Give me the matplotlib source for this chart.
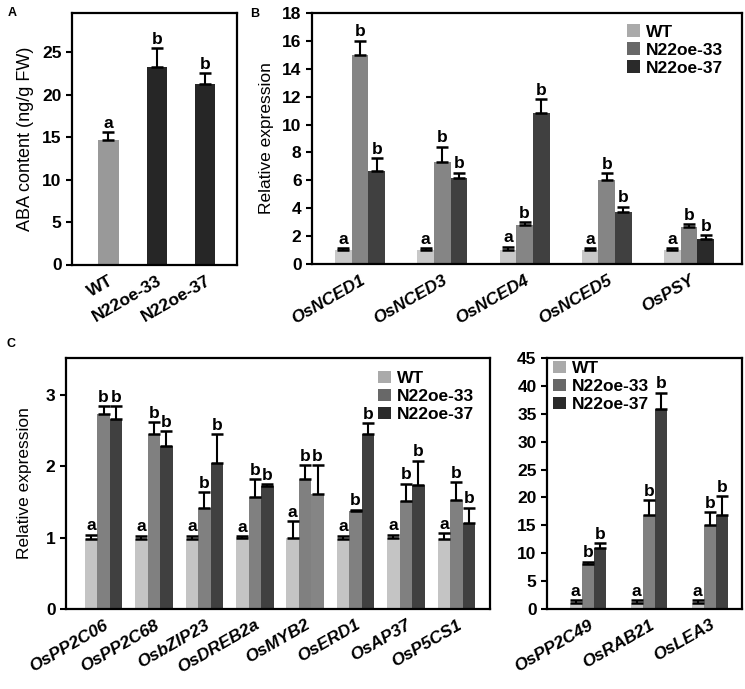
import matplotlib
matplotlib.use('Agg')
import matplotlib.pyplot as plt
import numpy as np
from matplotlib.patches import Patch

plt.rcParams['font.family'] = 'Liberation Sans'

# ---- data ----
lines = ['WT', 'N22oe-33', 'N22oe-37']
letters = ['a', 'b', 'b']

# A: ABA content
aba_mean = [14.7, 23.3, 21.3]
aba_err = [0.9, 2.15, 1.2]

# B: ABA biosynthesis genes
genes_b = ['OsNCED1', 'OsNCED3', 'OsNCED4', 'OsNCED5', 'OsPSY']
b_wt = [1.0, 1.0, 1.0, 1.0, 1.0]
b_wt_err = [0.15, 0.15, 0.25, 0.15, 0.15]
b_33 = [15.0, 7.35, 2.8, 6.05, 2.65]
b_33_err = [1.0, 1.05, 0.2, 0.45, 0.2]
b_37 = [6.7, 6.2, 10.8, 3.75, 1.8]
b_37_err = [0.9, 0.35, 1.0, 0.35, 0.25]

# C left: ABA responsive genes
genes_c1 = ['OsPP2C06', 'OsPP2C68', 'OsbZIP23', 'OsDREB2a', 'OsMYB2',
            'OsERD1', 'OsAP37', 'OsP5CS1']
c1_wt = [0.98, 0.98, 0.98, 1.0, 1.0, 0.98, 1.0, 0.98]
c1_wt_err = [0.06, 0.05, 0.05, 0.02, 0.23, 0.05, 0.04, 0.08]
c1_33 = [2.74, 2.45, 1.42, 1.57, 1.83, 1.37, 1.52, 1.53]
c1_33_err = [0.1, 0.17, 0.22, 0.25, 0.19, 0.02, 0.24, 0.25]
c1_37 = [2.67, 2.28, 2.05, 1.72, 1.61, 2.45, 1.74, 1.21]
c1_37_err = [0.17, 0.21, 0.4, 0.03, 0.41, 0.16, 0.34, 0.21]

# C right
genes_c2 = ['OsPP2C49', 'OsRAB21', 'OsLEA3']
c2_wt = [1.0, 1.0, 1.0]
c2_wt_err = [0.6, 0.6, 0.6]
c2_33 = [8.1, 16.8, 15.0]
c2_33_err = [0.4, 2.7, 2.4]
c2_37 = [11.0, 35.8, 16.8]
c2_37_err = [0.8, 3.0, 3.4]

W, H = 745, 689
fig = plt.figure(figsize=(W / 100, H / 100), dpi=100)


def make_ax(l, r, t, b):
    ax = fig.add_axes([l / W, 1 - b / H, (r - l) / W, (b - t) / H])
    for s in ax.spines.values():
        s.set_linewidth(1.6)
    ax.tick_params(axis='y', direction='out', length=4, width=1.5, labelsize=12.5)
    ax.tick_params(axis='x', length=0, labelsize=12)
    for lab in ax.get_yticklabels():
        lab.set_fontweight('bold')
    return ax


def bars(ax, x, vals, errs, color, width, lettr, colors=None):
    ax.bar(x, vals, width, color=colors if colors else color, edgecolor='none', zorder=2)
    ax.errorbar(x, vals, yerr=[np.zeros(len(vals)), errs], fmt='none', ecolor='black',
                elinewidth=1.5, capsize=4, capthick=1.8, zorder=3)
    for xi, v, e in zip(x, vals, errs):
        ax.annotate(lettr, (xi, v + e), xytext=(0, 1), textcoords='offset points',
                    ha='center', va='bottom', fontsize=12.5, fontweight='bold')


def xlabels(ax, x, labels, italic=True):
    ax.set_xticks(x)
    ax.set_xticklabels(labels, rotation=30, ha='right', rotation_mode='anchor',
                       fontweight='bold', style='italic' if italic else 'normal',
                       fontsize=12.5)
    ax.tick_params(axis='x', pad=6)


def legend(ax, anchor, cols):
    handles = [Patch(facecolor=c, edgecolor='none') for c in cols]
    ax.legend(handles, lines, loc='upper left', bbox_to_anchor=anchor, frameon=False,
              borderpad=0, borderaxespad=0, handlelength=0.75, handleheight=0.75,
              handletextpad=0.35, labelspacing=0.15,
              prop={'weight': 'bold', 'size': 12.5})


# ---- A ----
axA = make_ax(72, 236.7, 13, 264.5)
xa = np.arange(3)
for i in range(3):
    bars(axA, [xa[i]], [aba_mean[i]], [aba_err[i]], None, 0.42, letters[i],
         colors=['#999999', '#262626', '#262626'][i])
axA.set_xlim(-0.75, 2.65)
axA.set_ylim(0, 29.6)
axA.set_yticks([0, 5, 10, 15, 20, 25])
axA.set_ylabel('ABA content (ng/g FW)', fontsize=13, labelpad=6)
xlabels(axA, xa, lines, italic=False)
for lab in axA.get_yticklabels():
    lab.set_fontweight('bold')

# ---- B ----
axB = make_ax(312, 741.7, 13, 264)
xb = np.arange(len(genes_b))
wb = 0.203
bars(axB, xb - wb, b_wt, b_wt_err, '#c8c8c8', wb, 'a')
bars(axB, xb, b_33, b_33_err, '#858585', wb, 'b')
bars(axB, xb + wb, b_37, b_37_err, '#404040', wb, 'b',
     colors=['#404040', '#404040', '#404040', '#404040', '#2a2a2a'])
axB.set_xlim(-0.584, 4.64)
axB.set_ylim(0, 18)
axB.set_yticks(range(0, 19, 2))
axB.set_ylabel('Relative expression', fontsize=12.5, labelpad=6)
xlabels(axB, xb, genes_b)
legend(axB, (0.733, 0.955), ['#aaaaaa', '#686868', '#2a2a2a'])
for lab in axB.get_yticklabels():
    lab.set_fontweight('bold')

# ---- C left ----
axC = make_ax(66, 490, 358, 609)
xc = np.arange(len(genes_c1))
wc = 0.248
bars(axC, xc - wc, c1_wt, c1_wt_err, '#c4c4c4', wc, 'a')
bars(axC, xc, c1_33, c1_33_err, '#808080', wc, 'b')
c37_cols = ['#404040'] * len(genes_c1)
c37_cols[4] = '#858585'
bars(axC, xc + wc, c1_37, c1_37_err, '#404040', wc, 'b', colors=c37_cols)
axC.set_xlim(-0.745, 7.667)
axC.set_ylim(0, 3.52)
axC.set_yticks([0, 1, 2, 3])
axC.set_ylabel('Relative expression', fontsize=12.5, labelpad=10)
xlabels(axC, xc, genes_c1)
legend(axC, (0.736, 0.95), ['#aaaaaa', '#686868', '#2a2a2a'])
for lab in axC.get_yticklabels():
    lab.set_fontweight('bold')

# ---- C right ----
axD = make_ax(547, 741.7, 358, 609)
xd = np.arange(len(genes_c2))
wd = 0.2
bars(axD, xd - wd, c2_wt, c2_wt_err, '#c8c8c8', wd, 'a')
bars(axD, xd, c2_33, c2_33_err, '#808080', wd, 'b')
bars(axD, xd + wd, c2_37, c2_37_err, '#404040', wd, 'b')
axD.set_xlim(-0.67, 2.52)
axD.set_ylim(0, 45)
axD.set_yticks(range(0, 46, 5))
xlabels(axD, xd, genes_c2)
legend(axD, (0.03, 0.99), ['#aaaaaa', '#686868', '#2a2a2a'])
for lab in axD.get_yticklabels():
    lab.set_fontweight('bold')

# panel letters
fig.text(8 / W, 1 - 13 / H, 'A', fontsize=9, fontweight='bold', va='center')
fig.text(250 / W, 1 - 14 / H, 'B', fontsize=9, fontweight='bold', va='center')
fig.text(7 / W, 1 - 344 / H, 'C', fontsize=9, fontweight='bold', va='center')

fig.savefig('out.png', dpi=100)
